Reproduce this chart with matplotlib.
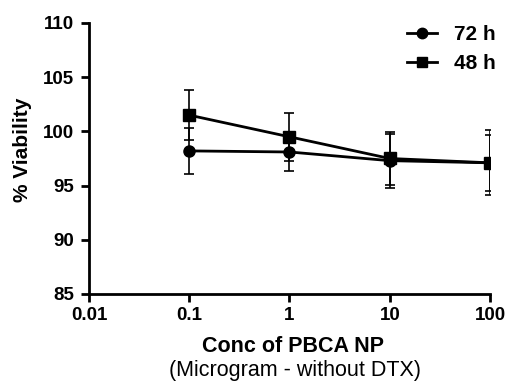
import matplotlib
matplotlib.use("Agg")
import matplotlib.pyplot as plt
from matplotlib.lines import Line2D

conc = [0.1, 1, 10, 100]
v72 = [98.2, 98.1, 97.3, 97.1]
e72 = [2.1, 1.8, 2.5, 2.6]
v48 = [101.5, 99.5, 97.5, 97.1]
e48 = [2.3, 2.2, 2.4, 3.0]
xticks = [0.01, 0.1, 1, 10, 100]
xticklabels = ["0.01", "0.1", "1", "10", "100"]
yticks = [85, 90, 95, 100, 105, 110]

plt.rcParams['font.family'] = ['Liberation Sans', 'DejaVu Sans']
fig = plt.figure(figsize=(5.07, 3.82), dpi=100)
ax = fig.add_axes([0.1755, 0.2304, 0.791, 0.7094])

ms = 8
ax.errorbar(conc, v72, yerr=e72, color='black', marker='o', markersize=ms,
            lw=2, capsize=3.8, elinewidth=1.2, capthick=1.2)
ax.errorbar(conc, v48, yerr=e48, color='black', marker='s', markersize=ms,
            lw=2, capsize=3.8, elinewidth=1.2, capthick=1.2)

ax.set_xscale('log')
ax.set_xlim(0.01, 100)
ax.set_ylim(85, 110)
ax.set_xticks(xticks)
ax.set_xticklabels(xticklabels)
ax.minorticks_off()
ax.set_yticks(yticks)
for s in ['top', 'right']:
    ax.spines[s].set_visible(False)
for s in ['left', 'bottom']:
    ax.spines[s].set_linewidth(2)
    ax.spines[s].set_clip_on(False)
ax.tick_params(direction='out', width=2, length=6, labelsize=13.5, pad=3.5)
ax.tick_params(axis='y', pad=4.5)
for lab in ax.get_xticklabels() + ax.get_yticklabels():
    lab.set_fontweight('bold')

fig.text(0.0434, 0.607, '% Viability', rotation=90, ha='center', va='center',
         fontsize=15, fontweight='bold')
fig.text(0.578, 0.094, 'Conc of PBCA NP', ha='center', va='center',
         fontsize=15.5, fontweight='bold')
fig.text(0.581, 0.031, '(Microgram - without DTX)', ha='center', va='center',
         fontsize=15.5)

handles = [Line2D([], [], color='black', marker='o', markersize=7.5, lw=2),
           Line2D([], [], color='black', marker='s', markersize=7.5, lw=2)]
leg = fig.legend(handles, ['72 h', '48 h'], loc='upper left', frameon=False,
                 fontsize=15, handlelength=1.44, handletextpad=0.8,
                 labelspacing=0.5, borderpad=0, borderaxespad=0,
                 bbox_to_anchor=(407 / 507, 1 - 25 / 382))
for t in leg.get_texts():
    t.set_fontweight('bold')

fig.savefig('out.png', dpi=100)
